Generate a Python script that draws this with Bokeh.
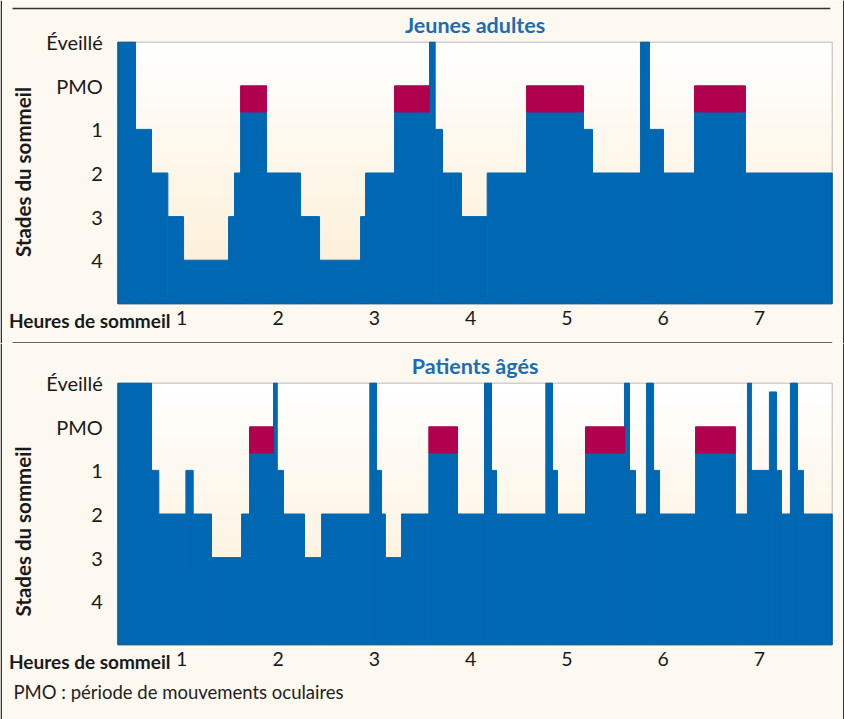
import numpy as np
from bokeh.plotting import figure
from bokeh.models import Range1d, FixedTicker, Label, Span, BoxAnnotation
from bokeh.layouts import column
from bokeh.embed import file_html
from bokeh.resources import INLINE

# ---------------- data ----------------
hour_ticks = [1, 2, 3, 4, 5, 6, 7]
stage_ticks = [1, 2, 3, 4, 5, 6]
stage_labels = ["4", "3", "2", "1", "PMO", "Éveillé"]
# level codes: 6 = Éveillé, 5 = PMO, 4 = stade 1, 3 = stade 2, 2 = stade 3, 1 = stade 4

young_edges = [0.336, 0.520, 0.686, 0.856, 1.019, 1.486, 1.548, 1.611, 1.881,
               2.234, 2.431, 2.857, 2.909, 3.210, 3.573, 3.632, 3.708, 3.905,
               4.172, 4.581, 5.172, 5.266, 5.764, 5.857, 6.003, 6.325, 6.854, 7.755]
young_levels = [6, 4, 3, 2, 1, 2, 3, 5, 3, 2, 1, 2, 3, 5, 6, 4, 3, 2, 3, 5,
                4, 3, 6, 4, 3, 5, 3]

older_edges = [0.336, 0.686, 0.762, 1.043, 1.119, 1.309, 1.621, 1.704, 1.953,
               1.992, 2.057, 2.275, 2.452, 2.953, 3.023, 3.075, 3.115, 3.282,
               3.566, 3.864, 4.144, 4.217, 4.269, 4.781, 4.850, 4.902, 5.193,
               5.598, 5.650, 5.712, 5.826, 5.900, 5.962, 6.336, 6.750, 6.875,
               6.916, 7.103, 7.176, 7.228, 7.321, 7.394, 7.456, 7.755]
older_levels = [6, 4, 3, 4, 3, 2, 3, 5, 6, 4, 3, 2, 3, 6, 4, 3, 2, 3, 5, 3,
                6, 4, 3, 6, 4, 3, 5, 6, 4, 3, 6, 4, 3, 5, 3, 6, 4, 5.8, 4, 3,
                6, 4, 3]

REM_BASE = 4.4   # top of the blue part under a PMO block

# ---------------- style / layout ----------------
FONT = "Lato"
BG = "#fdf8f0"
BLUE = "#0068b3"
CRIMSON = "#b0004e"
TITLE_BLUE = "#1a6db3"
INK = "#1a1a1a"
RULE = "#333333"
X0, X1 = 0.336, 7.755          # extent of the hypnogram area (hours)
XR = (-0.8822, 7.8827)          # full canvas width in hours


def lerp_color(c0, c1, t):
    a = [int(c0[i:i + 2], 16) for i in (1, 3, 5)]
    b = [int(c1[i:i + 2], 16) for i in (1, 3, 5)]
    return "#%02x%02x%02x" % tuple(int(round(a[k] + (b[k] - a[k]) * t)) for k in range(3))


def panel(edges, levels, title, height, yr):
    p = figure(width=844, height=height,
               x_range=Range1d(*XR), y_range=Range1d(*yr),
               output_backend="svg", toolbar_location=None,
               min_border=0, min_border_left=0, min_border_right=0,
               min_border_top=0, min_border_bottom=0,
               background_fill_color=BG, border_fill_color=BG)
    p.xgrid.visible = False
    p.ygrid.visible = False
    p.outline_line_color = None

    # gradient background of the hypnogram area
    n = 60
    ys = np.linspace(0, 6, n + 1)
    cols = [lerp_color("#fcedd2", "#ffffff", (i + 0.5) / n) for i in range(n)]
    p.quad(left=X0, right=X1, bottom=ys[:-1], top=ys[1:],
           fill_color=cols, line_color=cols, line_width=1)

    lefts = edges[:-1]
    rights = edges[1:]
    tops = [REM_BASE if lv == 5 else lv for lv in levels]
    p.quad(left=lefts, right=rights, bottom=0, top=tops,
           fill_color=BLUE, line_color=BLUE, line_width=1)
    rl = [l for l, lv in zip(lefts, levels) if lv == 5]
    rr = [r for r, lv in zip(rights, levels) if lv == 5]
    p.quad(left=rl, right=rr, bottom=REM_BASE, top=5,
           fill_color=CRIMSON, line_color=CRIMSON, line_width=1)

    p.add_layout(BoxAnnotation(left=X0, right=X1, bottom=0, top=6,
                               fill_color=None, fill_alpha=0,
                               line_color="#222222", line_width=1))

    # axes, pinned to the hypnogram area
    xa = p.xaxis[0]
    xa.fixed_location = 0
    xa.ticker = FixedTicker(ticks=hour_ticks)
    xa.axis_line_color = None
    xa.major_tick_line_color = None
    xa.minor_tick_line_color = None
    xa.major_label_text_font = FONT
    xa.major_label_text_font_size = "19.5px"
    xa.major_label_text_color = INK
    xa.major_label_standoff = 1

    ya = p.yaxis[0]
    ya.fixed_location = X0
    ya.ticker = FixedTicker(ticks=stage_ticks)
    ya.major_label_overrides = {t: s for t, s in zip(stage_ticks, stage_labels)}
    ya.axis_line_color = None
    ya.major_tick_line_color = None
    ya.minor_tick_line_color = None
    ya.major_label_text_font = FONT
    ya.major_label_text_font_size = "20px"
    ya.major_label_text_color = INK
    ya.major_label_standoff = 9
    ya.axis_label = "Stades du sommeil"
    ya.axis_label_text_font = FONT
    ya.axis_label_text_font_style = "bold"
    ya.axis_label_text_font_size = "20.5px"
    ya.axis_label_text_color = INK
    ya.axis_label_standoff = 8

    p.add_layout(Label(x=(X0 + X1) / 2, y=6.39, text=title,
                       text_align="center", text_baseline="middle",
                       text_font=FONT, text_font_style="bold",
                       text_font_size="21.5px", text_color=TITLE_BLUE))
    p.add_layout(Label(x=0.883, y=-0.383, text="Heures de sommeil",
                       text_align="right", text_baseline="middle",
                       text_font=FONT, text_font_style="bold",
                       text_font_size="19px", text_color=INK))
    # page frame lines
    for xv in (-0.8744, 7.875):
        p.add_layout(Span(location=xv, dimension="height",
                          line_color=RULE, line_width=1.5))
    return p


p1 = panel(young_edges, young_levels, "Jeunes adultes", 343, (-0.9106, 6.9564))
p1.segment(x0=[-0.7576, -0.7576], y0=[6.773, -0.899],
           x1=[7.735, 7.755], y1=[6.773, -0.899],
           line_color=RULE, line_width=1.5)

p2 = panel(older_edges, older_levels, "Patients âgés", 376, (-1.7133, 6.9106))
p2.add_layout(Label(x=-0.7472, y=-1.094, text="PMO : période de mouvements oculaires",
                    text_align="left", text_baseline="middle",
                    text_font=FONT, text_font_size="18.5px", text_color="#222222"))

layout = column(p1, p2, spacing=0)
open("out.html", "w").write(file_html(layout, INLINE))
